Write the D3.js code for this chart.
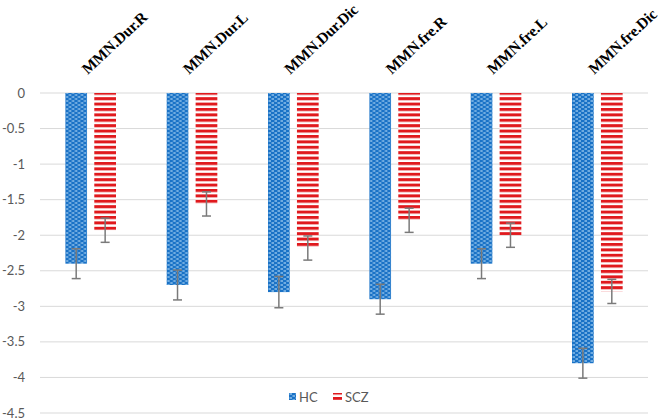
<!DOCTYPE html>
<html>
<head>
<meta charset="utf-8">
<script src="https://cdn.jsdelivr.net/npm/d3@7"></script>
<style>
  body { margin: 0; background: #fff; }
  svg { display: block; }
</style>
</head>
<body>
<div id="chart"></div>
<script>
const categories = ["MMN.Dur.R", "MMN.Dur.L", "MMN.Dur.Dic", "MMN.fre.R", "MMN.fre.L", "MMN.fre.Dic"];
const series = ["HC", "SCZ"];
const hcValues = [-2.4, -2.7, -2.8, -2.9, -2.4, -3.8];
const sczValues = [-1.93, -1.56, -2.18, -1.79, -2.0, -2.79];
const hcErrors = [0.21, 0.21, 0.22, 0.21, 0.21, 0.21];
const sczErrors = [0.17, 0.17, 0.17, 0.17, 0.17, 0.17];
const yTicks = [0, -0.5, -1, -1.5, -2, -2.5, -3, -3.5, -4, -4.5];

const W = 666, H = 419;
const plot = { left: 40, right: 648, top: 93, bottom: 413 };

const svg = d3.select("#chart")
  .append("svg")
  .attr("width", W)
  .attr("height", H);

// patterns
const defs = svg.append("defs");
const dots = defs.append("pattern")
  .attr("id", "hcPat")
  .attr("patternUnits", "userSpaceOnUse")
  .attr("width", 6).attr("height", 4);
dots.append("rect").attr("width", 6).attr("height", 4).attr("fill", "#1a72c6");
dots.append("rect").attr("x", 0.5).attr("y", 0.5).attr("width", 2.5).attr("height", 1).attr("fill", "#c6e6fc");
dots.append("rect").attr("x", 3.5).attr("y", 2.5).attr("width", 2.5).attr("height", 1).attr("fill", "#c6e6fc");

const stripes = defs.append("pattern")
  .attr("id", "sczPat")
  .attr("patternUnits", "userSpaceOnUse")
  .attr("width", 6).attr("height", 5.4);
stripes.append("rect").attr("width", 6).attr("height", 5.4).attr("fill", "#fff");
stripes.append("rect").attr("y", 0).attr("width", 6).attr("height", 3).attr("fill", "#e0191d");

const fills = { HC: "url(#hcPat)", SCZ: "url(#sczPat)" };

const x0 = d3.scaleBand()
  .domain(categories)
  .range([plot.left, plot.right])
  .paddingInner(0.5)
  .paddingOuter(0.25);

const x1 = d3.scaleBand()
  .domain(series)
  .range([0, x0.bandwidth()])
  .paddingInner(0.25);

const y = d3.scaleLinear()
  .domain([0, -4.5])
  .range([plot.top, plot.bottom]);

// gridlines
svg.append("g")
  .selectAll("line")
  .data(yTicks)
  .join("line")
  .attr("x1", plot.left).attr("x2", plot.right)
  .attr("y1", d => y(d)).attr("y2", d => y(d))
  .attr("stroke", "#d9d9d9")
  .attr("stroke-width", 1);

// y axis labels
svg.append("g")
  .selectAll("text")
  .data(yTicks)
  .join("text")
  .attr("x", 25)
  .attr("y", d => y(d) + 4.5)
  .attr("text-anchor", "end")
  .style("font-family", "Lato, 'Open Sans', sans-serif")
  .style("font-size", "13px")
  .style("fill", "#595959")
  .text(d => d);

const rows = categories.map((c, i) => ({
  cat: c,
  items: [
    { s: "HC", v: hcValues[i], e: hcErrors[i] },
    { s: "SCZ", v: sczValues[i], e: sczErrors[i] }
  ]
}));

const groups = svg.append("g")
  .selectAll("g")
  .data(rows)
  .join("g")
  .attr("transform", d => `translate(${x0(d.cat)},0)`);

groups.selectAll("rect")
  .data(d => d.items)
  .join("rect")
  .attr("x", d => x1(d.s))
  .attr("y", y(0))
  .attr("width", x1.bandwidth())
  .attr("height", d => y(d.v) - y(0))
  .attr("fill", d => fills[d.s]);

// error bars
const err = groups.selectAll("g.err")
  .data(d => d.items)
  .join("g")
  .attr("class", "err")
  .attr("stroke", "#7a7a7a")
  .attr("stroke-width", 1.5);

err.append("line")
  .attr("x1", d => x1(d.s) + x1.bandwidth() / 2)
  .attr("x2", d => x1(d.s) + x1.bandwidth() / 2)
  .attr("y1", d => y(d.v + d.e))
  .attr("y2", d => y(d.v - d.e));
[1, -1].forEach(k => {
  err.append("line")
    .attr("x1", d => x1(d.s) + x1.bandwidth() / 2 - 4.5)
    .attr("x2", d => x1(d.s) + x1.bandwidth() / 2 + 4.5)
    .attr("y1", d => y(d.v + k * d.e))
    .attr("y2", d => y(d.v + k * d.e));
});

// category labels, rotated
svg.append("g")
  .selectAll("text")
  .data(categories)
  .join("text")
  .attr("transform", d => `translate(${x0(d) + x0.bandwidth() / 2 - 3},75) rotate(-43)`)
  .style("font-family", "'Liberation Serif', 'Times New Roman', serif")
  .style("font-weight", "bold")
  .style("font-size", "15.5px")
  .style("letter-spacing", "-0.2px")
  .style("fill", "#000")
  .text(d => d);

// legend
const legend = svg.append("g").attr("transform", "translate(289,397)");
const legendItems = [
  { s: "HC", x: 0, w: 7, label: "HC" },
  { s: "SCZ", x: 44, w: 9, label: "SCZ" }
];
legendItems.forEach(l => {
  legend.append("rect")
    .attr("x", l.x).attr("y", -4)
    .attr("width", l.w).attr("height", 7)
    .attr("fill", fills[l.s]);
  legend.append("text")
    .attr("x", l.x + l.w + 3)
    .attr("y", 4.5)
    .style("font-family", "Lato, 'Open Sans', sans-serif")
    .style("font-size", "13px")
    .style("fill", "#595959")
    .text(l.label);
});
</script>
</body>
</html>
